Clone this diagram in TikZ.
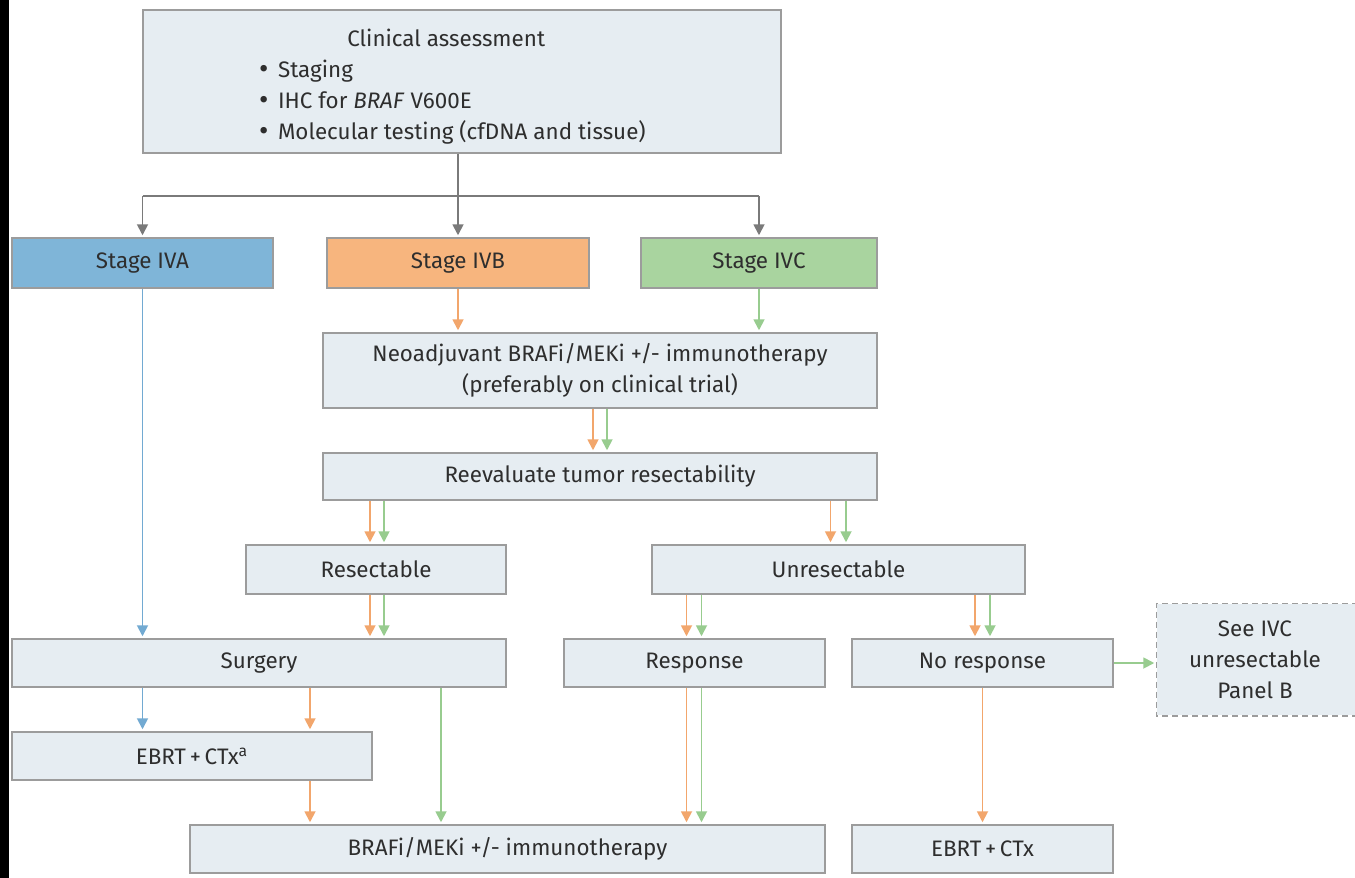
\documentclass[tikz,border=0pt]{standalone}
\usepackage{fontspec}
\setmainfont{Fira Sans}
\usetikzlibrary{arrows.meta,calc}
\definecolor{boxfill}{HTML}{E6EDF2}
\definecolor{boxline}{HTML}{9C9C9C}
\definecolor{txt}{HTML}{2E2E2E}
\definecolor{fillA}{HTML}{7FB5D8}
\definecolor{fillB}{HTML}{F7B57E}
\definecolor{fillC}{HTML}{A9D49F}
\definecolor{arG}{HTML}{7A7A7A}
\definecolor{arA}{HTML}{72AAD2}
\definecolor{arB}{HTML}{F2A66C}
\definecolor{arC}{HTML}{98CC8F}
\begin{document}
\begin{tikzpicture}[x=0.5pt,y=-0.5pt,
  font=\fontsize{11.2}{15.5}\selectfont, text=txt,
  box/.style={draw=boxline, line width=0.75pt, fill=boxfill, inner sep=0pt, align=center},
  dim/.style 2 args={minimum width=#1*0.5pt, minimum height=#2*0.5pt},
  arr/.style={line width=0.9pt, draw=#1, -{Triangle[length=5.5pt,width=5.5pt,fill=#1]}, shorten >=1pt},
  ln/.style={line width=0.9pt, draw=#1}]
\useasboundingbox (0,0) rectangle (1355,878);
\clip (0,0) rectangle (1355,878);
\fill[white] (0,0) rectangle (1355,878);
\fill[black] (0,0) rectangle (9,878);

\node[box, dim={638}{143}] (clin) at (462,81.5) {};
\node[text=txt, align=left, anchor=north west] (clinl) at (252,22) {\hspace*{97pt}\llap{Clinical assessment\hspace*{-46pt}}\\[0pt]%
  {\Large\raisebox{-0.5pt}{\textbullet}}\ \,Staging\\ {\Large\raisebox{-0.5pt}{\textbullet}}\ \,IHC for \textit{BRAF} V600E\\ {\Large\raisebox{-0.5pt}{\textbullet}}\ \,Molecular testing (cfDNA and tissue)};

\node[box, fill=fillA, dim={261}{50}] (iva) at (142.5,263) {Stage IVA};
\node[box, fill=fillB, dim={262}{50}] (ivb) at (458,263) {Stage IVB};
\node[box, fill=fillC, dim={236}{50}] (ivc) at (759,263) {Stage IVC};

\node[box, dim={554}{75}] (neo) at (600,370.5) {Neoadjuvant BRAFi/MEKi +/- immunotherapy\\(preferably on clinical trial)};
\node[box, dim={554}{47}] (reev) at (600,476.5) {Reevaluate tumor resectability};
\node[box, dim={260}{49}] (res) at (376,569.5) {Resectable};
\node[box, dim={373}{49}] (unres) at (838.5,569.5) {Unresectable};
\node[box, dim={494}{48}] (surg) at (259,663) {Surgery};
\node[box, dim={261}{48}] (resp) at (694.5,663) {Response};
\node[box, dim={261}{48}] (nores) at (982.5,663) {No response};
\node[box, draw=none, dim={220}{111}] (see) at (1267,659.5) {};
\draw[boxline, line width=0.75pt, dash pattern=on 3pt off 2pt] (see.north east) -- (see.north west) -- (see.south west) -- (see.south east);
\node (seet) at (1255,659.5) [align=center] {See IVC\\unresectable\\Panel B};
\node[box, dim={360}{48}] (ebrta) at (192,756) {EBRT\,+\,CTx\textsuperscript{a}};
\node[box, dim={635}{48}] (brafi) at (507.5,849) {BRAFi/MEKi +/- immunotherapy};
\node[box, dim={261}{48}] (ebrt) at (982.5,849) {EBRT\,+\,CTx};

% gray branch
\coordinate (br) at (458,196);
\draw[ln=arG] (iva.north |- br) -- (ivc.north |- br);
\draw[arr=arG] (clin.south -| ivb.north) -- (ivb.north);
\draw[arr=arG] (iva.north |- br) -- (iva.north);
\draw[arr=arG] (ivc.north |- br) -- (ivc.north);

% stages
\draw[arr=arA] (iva.south) -- (iva.south |- surg.north);
\draw[arr=arB] (ivb.south) -- (ivb.south |- neo.north);
\draw[arr=arC] (ivc.south) -- (ivc.south |- neo.north);

% neo -> reev
\coordinate (n1) at ($(neo.south)+(-7,0)$);
\coordinate (n2) at ($(neo.south)+(7,0)$);
\draw[arr=arB] (n1) -- (n1 |- reev.north);
\draw[arr=arC] (n2) -- (n2 |- reev.north);

% reev -> res / unres
\coordinate (r1) at ($(res.north)+(-6,0)$);
\coordinate (r2) at ($(res.north)+(8,0)$);
\draw[arr=arB] (reev.south -| r1) -- (r1);
\draw[arr=arC] (reev.south -| r2) -- (r2);
\coordinate (u1) at ($(unres.north)+(-8,0)$);
\coordinate (u2) at ($(unres.north)+(7.5,0)$);
\draw[arr=arB] (reev.south -| u1) -- (u1);
\draw[arr=arC] (reev.south -| u2) -- (u2);

% res -> surgery
\draw[arr=arB] (res.south -| r1) -- (surg.north -| r1);
\draw[arr=arC] (res.south -| r2) -- (surg.north -| r2);

% unres -> response / no response
\coordinate (p1) at ($(resp.north)+(-8,0)$);
\coordinate (p2) at ($(resp.north)+(7,0)$);
\draw[arr=arB] (unres.south -| p1) -- (p1);
\draw[arr=arC] (unres.south -| p2) -- (p2);
\coordinate (q1) at ($(nores.north)+(-7.5,0)$);
\coordinate (q2) at ($(nores.north)+(7.5,0)$);
\draw[arr=arB] (unres.south -| q1) -- (q1);
\draw[arr=arC] (unres.south -| q2) -- (q2);

% surgery -> ebrta / brafi
\coordinate (s2) at ($(ebrta.north)+(118,0)$);
\coordinate (s3) at ($(brafi.north)+(-66.5,0)$);
\draw[arr=arA] (surg.south -| iva.south) -- (ebrta.north -| iva.south);
\draw[arr=arB] (surg.south -| s2) -- (s2);
\draw[arr=arC] (surg.south -| s3) -- (s3);
\draw[arr=arB] (ebrta.south -| s2) -- (brafi.north -| s2);

% response -> brafi
\draw[arr=arB] (resp.south -| p1) -- (brafi.north -| p1);
\draw[arr=arC] (resp.south -| p2) -- (brafi.north -| p2);

% no response
\draw[arr=arB] (nores.south) -- (ebrt.north);
\draw[arr=arC] (nores.east) -- (see.west |- nores.east);
\end{tikzpicture}
\end{document}
